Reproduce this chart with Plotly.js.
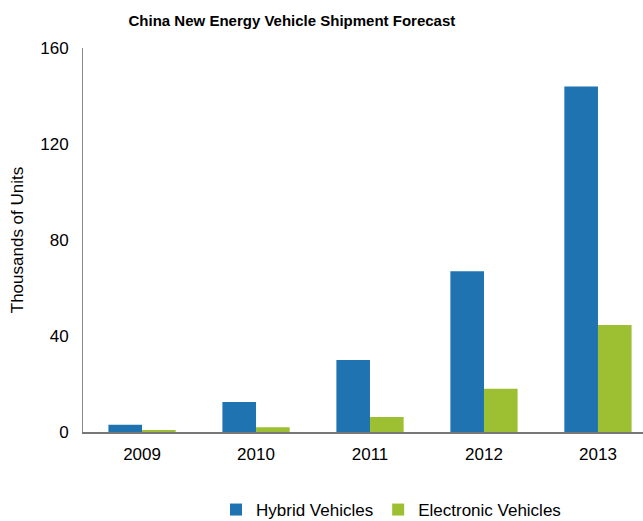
<!DOCTYPE html>
<html>
<head>
<meta charset="utf-8">
<script src="https://cdn.plot.ly/plotly-3.0.1.min.js"></script>
<style>html,body{margin:0;padding:0;background:#fff;overflow:hidden}</style>
</head>
<body>
<div id="chart" style="width:643px;height:528px"></div>
<script>
const years = ["2009", "2010", "2011", "2012", "2013"];
const hybridVehicles = [3, 12.5, 30, 67, 144];
const electronicVehicles = [0.8, 2, 6.2, 18, 44.6];
const yTicks = [0, 40, 80, 120, 160];

const font = "Liberation Sans, Arial, sans-serif";
const data = [
  {type: "bar", name: "Hybrid Vehicles", x: years, y: hybridVehicles,
   marker: {color: "#1f73b0"}},
  {type: "bar", name: "Electronic Vehicles", x: years, y: electronicVehicles,
   marker: {color: "#9dc033"}}
];
const layout = {
  width: 643, height: 528,
  margin: {l: 83, r: 0, t: 48, b: 96, pad: 0},
  paper_bgcolor: "#fff", plot_bgcolor: "#fff",
  font: {family: font, size: 17, color: "#000"},
  title: {text: "<b>China New Energy Vehicle Shipment Forecast</b>",
          font: {family: font, size: 15, color: "#000"},
          yref: "paper", y: 1, yanchor: "bottom", pad: {b: 22},
          xref: "container", x: 0.454, xanchor: "center"},
  barmode: "group", bargap: 0.41, bargroupgap: 0,
  xaxis: {type: "category", range: [-0.518, 4.395], showgrid: false,
          showline: true, linecolor: "#777", linewidth: 2, ticks: "",
          tickfont: {size: 17}, ticklabelstandoff: 6, zeroline: false},
  yaxis: {range: [0, 160], tickvals: yTicks, showgrid: false, zeroline: false,
          showline: true, linecolor: "#888", linewidth: 1, ticks: "",
          ticklabelstandoff: 10, tickfont: {size: 17},
          title: {text: "Thousands of Units", font: {size: 17}, standoff: 12}},
  legend: {orientation: "h", xref: "paper", x: 0.55, xanchor: "center",
           yref: "container", y: 0.0, yanchor: "bottom",
           font: {size: 17}, itemwidth: 30, tracegroupgap: 0},
  showlegend: true
};
Plotly.newPlot("chart", data, layout, {displayModeBar: false, staticPlot: true});
</script>
</body>
</html>
